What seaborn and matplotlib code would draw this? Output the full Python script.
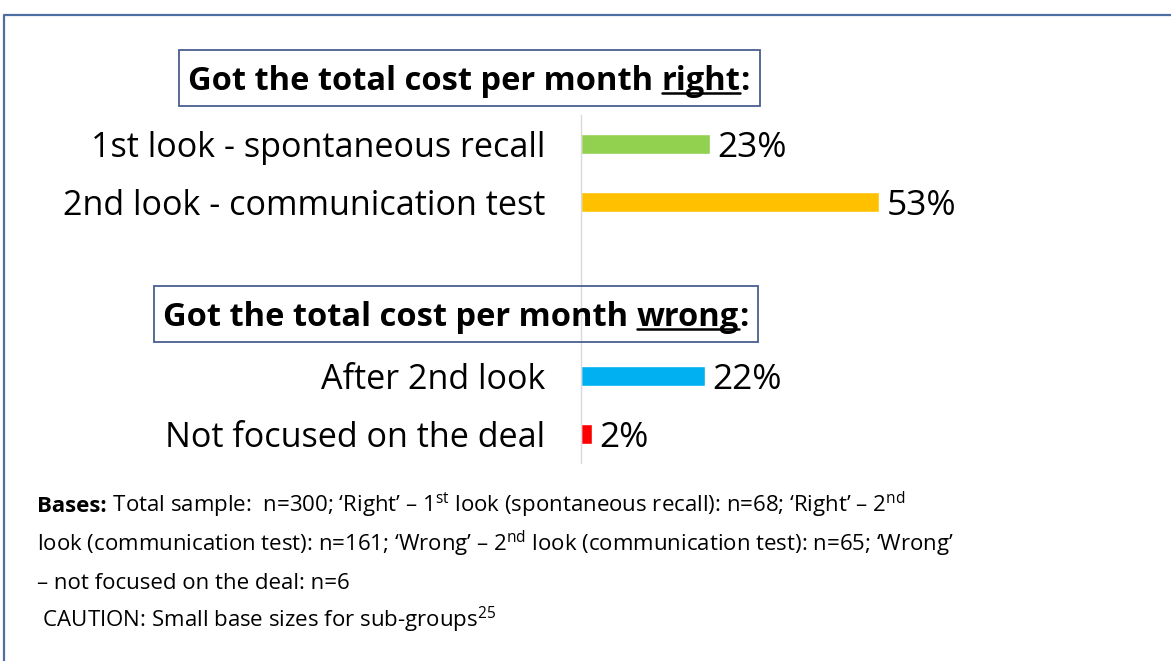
import numpy as np
import pandas as pd
import matplotlib
matplotlib.use('Agg')
import matplotlib.pyplot as plt
from matplotlib.lines import Line2D
from matplotlib.patches import Rectangle
import seaborn as sns

# data
labels = ['1st look - spontaneous recall', '2nd look - communication test',
          'After 2nd look', 'Not focused on the deal']
values = [23, 53, 22, 2]
colors = ['#92d050', '#ffc000', '#00b0f0', '#ff0000']
# slot order incl. two empty rows (gap + second header)
slots = [labels[0], labels[1], 'gap', 'header', labels[2], labels[3]]

header_right = ['Got the total cost per month ', 'right', ':']
header_wrong = ['Got the total cost per month ', 'wrong', ':']

footnote = [
    ('Bases:', ' Total sample:  n=300; \u2018Right\u2019 \u2013 1$^{st}$ look (spontaneous recall): n=68; \u2018Right\u2019 \u2013 2$^{nd}$'),
    ('', 'look (communication test): n=161; \u2018Wrong\u2019 \u2013 2$^{nd}$ look (communication test): n=65; \u2018Wrong\u2019'),
    ('', '\u2013 not focused on the deal: n=6'),
    ('', ' CAUTION: Small base sizes for sub-groups$^{25}$'),
]

sns.set_style('white')
plt.rcParams['font.family'] = ['Open Sans', 'DejaVu Sans']
plt.rcParams['text.color'] = 'black'
plt.rcParams['mathtext.fontset'] = 'custom'
plt.rcParams['mathtext.rm'] = 'Open Sans'
plt.rcParams['mathtext.default'] = 'regular'

W, H = 1171, 661
fig = plt.figure(figsize=(W / 100, H / 100), dpi=100)


def px(x, y):
    return x / W, 1 - y / H


# axis area: 581..1144 px wide (0..100%), 115..463 px tall
ax = fig.add_axes([581 / W, (H - 463) / H, 563 / W, 348 / H])

df = pd.DataFrame({'label': labels, 'value': values})
sns.barplot(data=df, x='value', y='label', hue='label', order=slots,
            palette=dict(zip(labels, colors)), width=0.345, legend=False,
            orient='h', ax=ax, saturation=1)
ax.set_xlim(0, 100)
ax.set_ylim(5.5, -0.5)
ax.set_xlabel('')
ax.set_ylabel('')
ax.set_xticks([])
for s in ['top', 'right', 'bottom']:
    ax.spines[s].set_visible(False)
ax.spines['left'].set_color('#d9d9d9')
ax.spines['left'].set_linewidth(1)

ax.set_yticks([0, 1, 4, 5])
ax.set_yticklabels(labels, fontsize=24.6, color='black')
ax.tick_params(axis='y', which='major', length=0, pad=26)
ax.set_yticks([-0.5, 0.5, 1.5, 3.5, 4.5, 5.5], minor=True)
ax.tick_params(axis='y', which='minor', length=9.5, width=1, color='#d9d9d9')

for cont in ax.containers:
    for t in ax.bar_label(cont, fmt='%d%%', padding=5, fontsize=25.5, color='black'):
        t.set_va('center_baseline')

# header boxes
fig.canvas.draw()
renderer = fig.canvas.get_renderer()


def header(parts, x, y):
    kw = dict(fontsize=23.5, fontweight='bold', va='center', ha='left', color='black')
    t1 = fig.text(*px(x, y + 3), parts[0], **kw)
    t2 = fig.text(0, 0, parts[1], **kw)
    t3 = fig.text(0, 0, parts[2], **kw)
    e1 = t1.get_window_extent(renderer)
    t2.set_position(fig.transFigure.inverted().transform((e1.x1, e1.y0 + e1.height / 2)))
    e2 = t2.get_window_extent(renderer)
    t3.set_position(fig.transFigure.inverted().transform((e2.x1, e2.y0 + e2.height / 2)))
    e3 = t3.get_window_extent(renderer)
    # underline
    uy = e2.y0 + e2.height * 0.14
    fig.add_artist(Line2D([e2.x0 / W, e2.x1 / W], [uy / H, uy / H], color='black', lw=1.8))
    # box
    x0, x1 = e1.x0 - 9, e3.x1 + 10
    fig.add_artist(Rectangle(px(x0, y + 28), (x1 - x0) / W, 56 / H, transform=fig.transFigure,
                             fill=False, edgecolor='#4a5f8f', lw=1.3))


header(header_right, 188, 78)
header(header_wrong, 163, 314)

# footnote
baselines = [512, 551, 589, 627]
for (bold, rest), yb in zip(footnote, baselines):
    x = 37
    if bold:
        tb = fig.text(*px(x, yb), bold, fontsize=16, fontweight='bold', va='baseline', ha='left')
        x = tb.get_window_extent(renderer).x1
    fig.text(*px(x, yb), rest, fontsize=16, va='baseline', ha='left')

# outer frame (cut off on the right / bottom)
fig.add_artist(Line2D([4 / W, 4 / W, 1], [0, 1 - 15 / H, 1 - 15 / H], color='#4f6fa3', lw=1.6))

fig.savefig('out.png', dpi=100)
